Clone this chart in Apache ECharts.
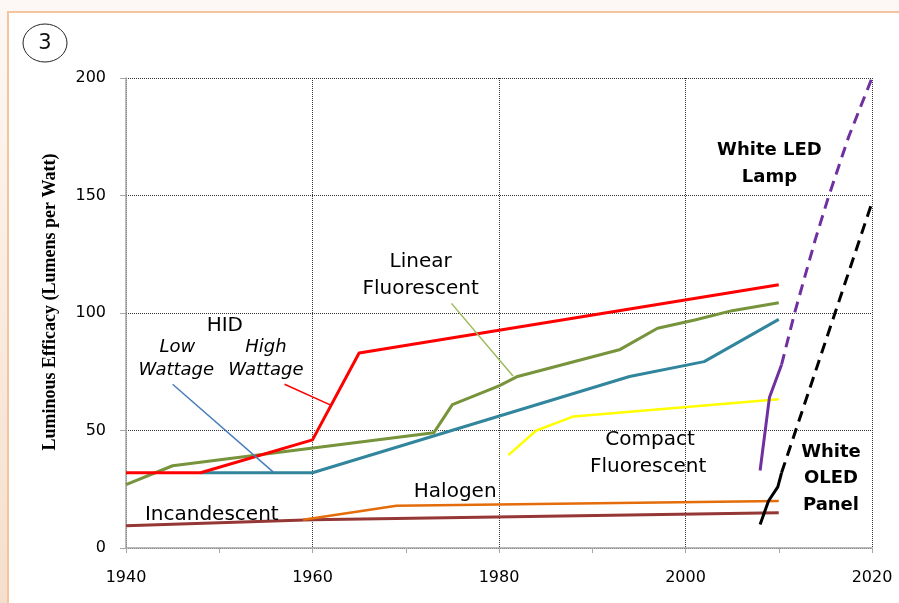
<!DOCTYPE html>
<html>
<head>
<meta charset="utf-8">
<script src="https://cdn.jsdelivr.net/npm/echarts@6/dist/echarts.min.js"></script>
<style>
html,body{margin:0;padding:0;width:899px;height:603px;overflow:hidden;
  background:linear-gradient(to bottom,#fdf8f5 0%,#faeee4 40%,#f5dfcc 100%);}
#frame{position:absolute;left:7px;top:11px;width:900px;height:600px;background:#fff;
  border-left:2px solid #f3c49e;border-top:2px solid #f3c49e;}
#chart{position:absolute;left:0;top:0;width:899px;height:603px;}
</style>
</head>
<body>
<div id="frame"></div>
<div id="chart"></div>
<script>
// ---- data (year, lumens per watt) ----
const xTicks = [1940, 1960, 1980, 2000, 2020];
const yTicks = [0, 50, 100, 150, 200];

const incandescent = [[1940, 9.5], [1960, 12], [2010, 15]];
const halogen = [[1959, 12], [1969, 18], [2010, 20]];
const hidLowWattage = [[1948, 32], [1960, 32], [1994, 73], [2002, 79.3], [2010, 97.3]];
const linearFluorescent = [[1940, 27], [1945, 35], [1973, 49], [1975, 61], [1980, 69], [1982, 73],
  [1993, 84.5], [1997, 93.5], [2001, 97], [2005, 101], [2010, 104.4]];
const hidHighWattage = [[1940, 32], [1948, 32], [1960, 46], [1965, 83], [2010, 112]];
const compactFluorescent = [[1981, 39.5], [1984, 50], [1988, 56], [2010, 63.3]];
const whiteLedActual = [[2008, 33], [2009, 64], [2010.3, 78]];
const whiteLedProjected = [[2010.3, 78], [2011.7, 100], [2013.9, 131], [2015.3, 149], [2017.5, 175], [2020, 200]];
const whiteOledActual = [[2008, 10], [2008.9, 20], [2009.9, 26], [2010.3, 32]];
const whiteOledProjected = [[2010.3, 32], [2020, 147]];

// annotation labels anchored in data coordinates
const labelsRegular = [
  [1950.6, 94.6, 'HID'],
  [1971.6, 121.7, 'Linear'],
  [1971.6, 110.2, 'Fluorescent'],
  [1996.2, 46.0, 'Compact'],
  [1996.0, 34.6, 'Fluorescent'],
  [1975.3, 23.9, 'Halogen'],
  [1949.2, 14.2, 'Incandescent']
];
const labelsItalic = [
  [1945.5, 85.2, 'Low'],
  [1945.4, 75.4, 'Wattage'],
  [1955.0, 85.2, 'High'],
  [1955.0, 75.4, 'Wattage']
];
const labelsBold = [
  [2009.0, 169.3, 'White LED'],
  [2009.0, 157.8, 'Lamp'],
  [2015.6, 40.5, 'White'],
  [2015.6, 29.5, 'OLED'],
  [2015.6, 18.0, 'Panel']
];
// leader lines
const leaderLow = [[1945.0, 69.7], [1955.8, 32.3]];
const leaderHigh = [[1957.0, 69.7], [1961.9, 60.9]];
const leaderLinear = [[1974.9, 104.1], [1981.5, 73.2]];

const SANS = 'DejaVu Sans';

function lineSeries(data, color, width, dash, z) {
  return {
    type: 'line', data: data, symbol: 'none', smooth: false, silent: true, z: z || 2,
    lineStyle: { color: color, width: width, type: dash || 'solid', cap: 'butt', join: 'round' }
  };
}
function textSeries(items, style) {
  return {
    type: 'scatter', symbolSize: 0, silent: true, z: 10,
    itemStyle: { opacity: 1 },
    data: items.map(d => ({ value: [d[0], d[1]], label: { formatter: d[2] } })),
    label: Object.assign({ show: true, position: [0, 0], align: 'center', verticalAlign: 'middle',
      color: '#000', opacity: 1, textBorderWidth: 0, fontFamily: SANS }, style)
  };
}

const chart = echarts.init(document.getElementById('chart'), null, { renderer: 'canvas' });
chart.setOption({
  animation: false,
  backgroundColor: 'transparent',
  grid: { left: 126, right: 27, top: 78, bottom: 55, containLabel: false },
  xAxis: {
    type: 'value', min: xTicks[0], max: xTicks[xTicks.length - 1], interval: 20,
    axisLine: { show: true, onZero: false, lineStyle: { color: '#a6a6a6', width: 1.5 } },
    axisTick: { show: true, length: 5, lineStyle: { color: '#a6a6a6', width: 1 } },
    minorTick: { show: true, splitNumber: 2, length: 5, lineStyle: { color: '#a6a6a6', width: 1 } },
    splitLine: { show: true, lineStyle: { color: '#333', width: 1, type: [1, 1] } },
    axisLabel: { color: '#000', fontFamily: SANS, fontSize: 16, margin: 22,
      formatter: v => xTicks.indexOf(v) >= 0 ? String(v) : '' }
  },
  yAxis: {
    type: 'value', min: yTicks[0], max: yTicks[yTicks.length - 1], interval: 50,
    axisLine: { show: true, lineStyle: { color: '#a6a6a6', width: 1.5 } },
    axisTick: { show: true, length: 6, lineStyle: { color: '#a6a6a6', width: 1 } },
    splitLine: { show: true, lineStyle: { color: '#333', width: 1, type: [1, 1] } },
    axisLabel: { color: '#000', fontFamily: SANS, fontSize: 16, margin: 20 }
  },
  graphic: [
    { type: 'ellipse', shape: { cx: 45, cy: 43, rx: 22, ry: 19 }, style: { fill: '#fff', stroke: '#222', lineWidth: 1 } },
    { type: 'text', x: 45, y: 44, style: { text: '3', fontFamily: SANS, fontSize: 21, fill: '#111', align: 'center', verticalAlign: 'middle' } },
    { type: 'text', x: 50, y: 302, rotation: Math.PI / 2,
      style: { text: 'Luminous Efficacy (Lumens per Watt)', fontFamily: 'Liberation Serif', fontWeight: 'bold',
        fontSize: 18, fill: '#000', align: 'center', verticalAlign: 'middle' } }
  ],
  series: [
    lineSeries(incandescent, '#953735', 3),
    lineSeries(halogen, '#e46c0a', 2.5),
    lineSeries(hidLowWattage, '#31859c', 3),
    lineSeries(linearFluorescent, '#77933c', 3),
    lineSeries(hidHighWattage, '#ff0000', 3),
    lineSeries(compactFluorescent, '#ffff00', 2.5),
    lineSeries(whiteLedActual, '#7030a0', 3),
    lineSeries(whiteLedProjected, '#7030a0', 3, [11, 7]),
    lineSeries(whiteOledActual, '#000000', 3),
    lineSeries(whiteOledProjected, '#000000', 3, [11, 7]),
    lineSeries(leaderLow, '#4a7ebb', 1.5, 'solid', 3),
    lineSeries(leaderHigh, '#ff0000', 1.5, 'solid', 3),
    lineSeries(leaderLinear, '#9bbb59', 1.5, 'solid', 3),
    textSeries(labelsRegular, { fontSize: 20 }),
    textSeries(labelsItalic, { fontSize: 18, fontStyle: 'italic' }),
    textSeries(labelsBold, { fontSize: 18, fontWeight: 'bold' })
  ]
});
</script>
</body>
</html>
